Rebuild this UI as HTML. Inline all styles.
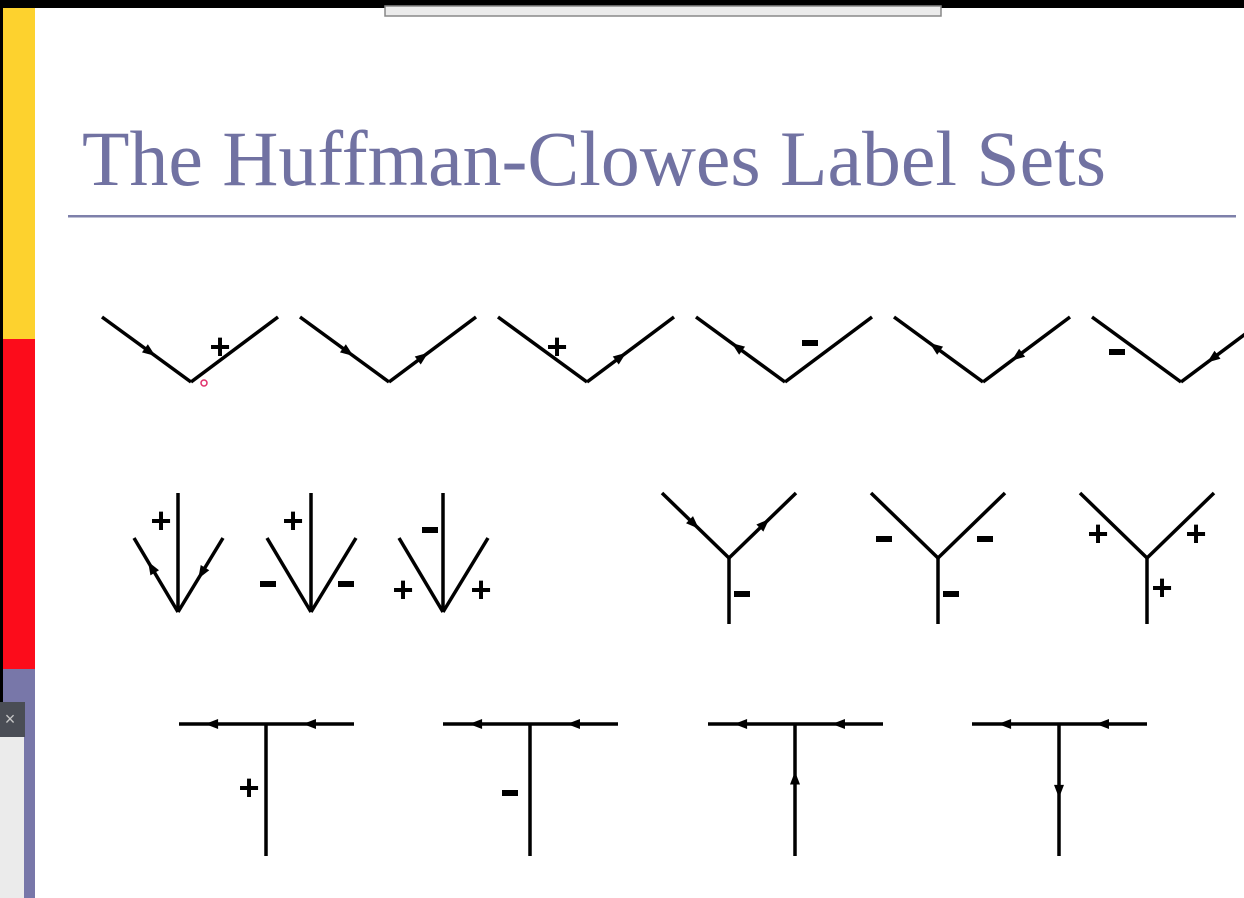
<!DOCTYPE html>
<html><head><meta charset="utf-8">
<style>
html,body{margin:0;padding:0;background:#fff;}
svg{display:block;}
</style></head>
<body>
<svg id="slide" width="1244" height="898" viewBox="0 0 1244 898" xmlns="http://www.w3.org/2000/svg">
  <rect x="0" y="0" width="1244" height="898" fill="#ffffff"/>
  <rect x="0" y="0" width="1244" height="8" fill="#000"/>
  <rect x="385" y="6" width="556" height="10" fill="#ebebeb" stroke="#888" stroke-width="1.5"/>
  <rect x="0" y="8" width="3" height="890" fill="#000"/>
  <rect x="3" y="8" width="32" height="331" fill="#fdd22e"/>
  <rect x="3" y="339" width="32" height="330" fill="#fc0c1b"/>
  <rect x="3" y="669" width="32" height="229" fill="#7877a9"/>
  <rect x="0" y="736" width="24" height="162" fill="#ebebeb"/>
  <rect x="0" y="702" width="25" height="35" fill="#4a4d55"/>
  <text x="10" y="725" font-family="Liberation Sans, sans-serif" font-size="18" fill="#c8c8c8" text-anchor="middle">×</text>
  <text x="82" y="185" font-family="Liberation Serif, serif" font-size="78" fill="#7172a2" textLength="1024" lengthAdjust="spacingAndGlyphs">The Huffman-Clowes Label Sets</text>
  <rect x="68" y="215" width="1168" height="2.5" fill="#7e80aa"/>
  <g id="junctions"></g>
</svg>
<script>
const lJunctionVertices = [[191,382],[389,382],[587,382],[785,382],[983,382],[1181,382]];
const lArms = [[-89,-65],[87,-65]];
const lArrows = [
  [[0,0.4,1]],
  [[0,0.4,1],[1,0.45,-1]],
  [[1,0.45,-1]],
  [[0,0.6,-1]],
  [[0,0.6,-1],[1,0.33,1]],
  [[1,0.3,1]]
];
const lLabels = [
  [["+",220,347]],[],[["+",557,347]],[["-",810,343]],[],[["-",1117,352]]
];
const arrowVertices = [[178,612],[311,612],[443,612]];
const arrowArms = [[-44,-74],[0,-119],[45,-74]];
const arrowArrows = [[[0,0.68,-1],[2,0.45,1]],[],[]];
const arrowLabels = [
  [["+",161,521]],
  [["+",293,521],["-",268,584],["-",346,584]],
  [["-",430,530],["+",403,590],["+",481,590]]
];
const forkVertices = [[729,558],[938,558],[1147,558]];
const forkArms = [[-67,-65],[67,-65],[0,66]];
const forkArrows = [[[0,0.45,1],[1,0.6,-1]],[],[]];
const forkLabels = [
  [["-",742,594]],
  [["-",884,539],["-",985,539],["-",951,594]],
  [["+",1098,534],["+",1196,534],["+",1162,588]]
];
const tVertices = [[266,724],[530,724],[795,724],[1059,724]];
const tArms = [[-87,0],[88,0],[0,132]];
const tArrows = [
  [[0,0.7,-1],[1,0.42,1]],
  [[0,0.7,-1],[1,0.42,1]],
  [[0,0.7,-1],[1,0.42,1],[2,0.36,1]],
  [[0,0.7,-1],[1,0.42,1],[2,0.56,-1]]
];
const tLabels = [[["+",249,788]],[["-",510,793]],[],[]];

const NS = "http://www.w3.org/2000/svg";
const root = document.getElementById('junctions');
function mk(tag, attrs, parent){
  const e = document.createElementNS(NS, tag);
  for (const k in attrs) e.setAttribute(k, attrs[k]);
  parent.appendChild(e);
  return e;
}
function drawSet(kind, vertices, arms, arrows, labels){
  vertices.forEach((v, i) => {
    const g = mk('g', {}, root);
    
    
    arms.forEach((a, j) => {
      const ln = mk('line', {x1:v[0], y1:v[1], x2:v[0]+a[0], y2:v[1]+a[1], stroke:'#000', 'stroke-width':3.5, 'stroke-linecap':'butt'}, g);
      
      
    });
    (arrows[i]||[]).forEach(ar => {
      const a = arms[ar[0]];
      const len = Math.hypot(a[0], a[1]);
      const ux = a[0]/len, uy = a[1]/len;
      const dx = ar[2] > 0 ? -ux : ux, dy = ar[2] > 0 ? -uy : uy;
      const tx = v[0] + a[0]*ar[1], ty = v[1] + a[1]*ar[1];
      const bx = tx - dx*13, by = ty - dy*13;
      const px = -dy*5, py = dx*5;
      const p = mk('polygon', {points: `${tx},${ty} ${bx+px},${by+py} ${bx-px},${by-py}`, fill:'#000'}, g);
      
      
    });
    (labels[i]||[]).forEach(lb => {
      const isMinus = lb[0] === '-';
      if (isMinus) {
        const r = mk('rect', {x: lb[1]-8, y: lb[2]-3, width: 16, height: 6, fill:'#000'}, g);
        
        
        const t = mk('text', {x: lb[1], y: lb[2]+3, 'font-size': 1, fill: 'none'}, g);
        t.textContent = '-';
      } else {
        const t = mk('text', {x: lb[1], y: lb[2]+12, 'font-family':'Liberation Sans, sans-serif', 'font-weight':'bold', 'font-size':36, 'text-anchor':'middle', fill:'#000'}, g);
        t.textContent = '+';
        
        
      }
    });
  });
}
drawSet('l', lJunctionVertices, lArms, lArrows, lLabels);
drawSet('arrow', arrowVertices, arrowArms, arrowArrows, arrowLabels);
drawSet('fork', forkVertices, forkArms, forkArrows, forkLabels);
drawSet('t', tVertices, tArms, tArrows, tLabels);
const c = mk('circle', {cx:204, cy:383, r:3, fill:'none', stroke:'#e0306a', 'stroke-width':1.5}, root);


</script>
</body></html>
